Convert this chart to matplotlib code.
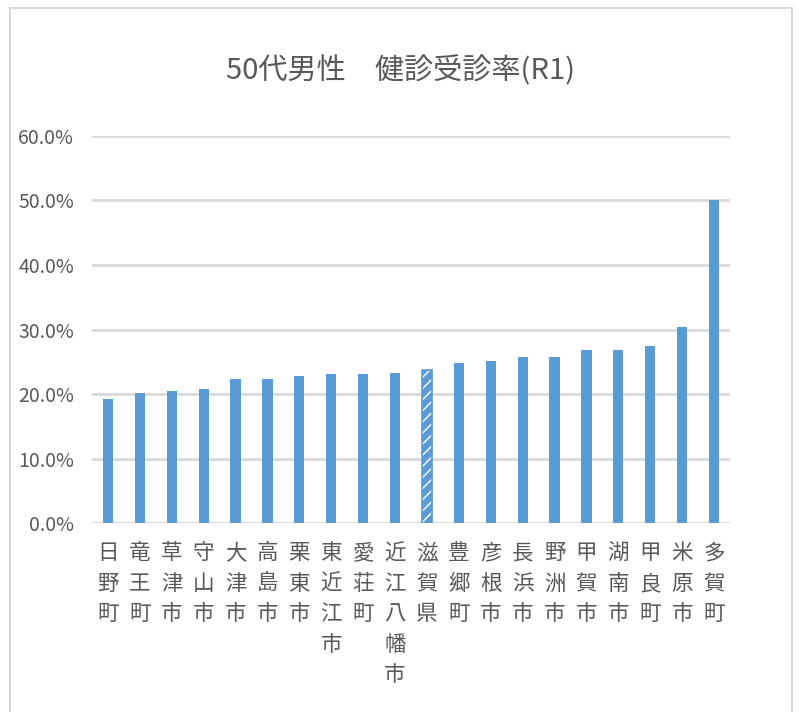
import matplotlib.pyplot as plt
from matplotlib.patches import Rectangle
from matplotlib.ticker import PercentFormatter

plt.rcParams['font.family'] = ['Noto Sans CJK JP', 'DejaVu Sans']

# data
areas = ['日野町', '竜王町', '草津市', '守山市', '大津市', '高島市', '栗東市',
         '東近江市', '愛荘町', '近江八幡市', '滋賀県', '豊郷町', '彦根市',
         '長浜市', '野洲市', '甲賀市', '湖南市', '甲良町', '米原市', '多賀町']
rates = [0.192, 0.201, 0.204, 0.208, 0.223, 0.223, 0.228,
         0.231, 0.231, 0.233, 0.238, 0.248, 0.251,
         0.257, 0.257, 0.269, 0.269, 0.274, 0.304, 0.500]
highlight = '滋賀県'

blue = '#5B9BD5'
grey = '#595959'

fig = plt.figure(figsize=(8, 7.12), dpi=100)
ax = fig.add_axes([0.115, 0.2654, 0.7975, 0.5436])

x = range(len(areas))
for i, (name, v) in enumerate(zip(areas, rates)):
    if name == highlight:
        ax.bar(i, v, width=0.32, color=blue, edgecolor='white', hatch='///',
               linewidth=0, zorder=3)
        ax.bar(i, v, width=0.32, fill=False, edgecolor=blue, linewidth=1.2, zorder=4)
    else:
        ax.bar(i, v, width=0.32, color=blue, zorder=3)

ax.set_xlim(-0.5, len(areas) - 0.5)
ax.set_ylim(0, 0.6)
ax.set_yticks([0, 0.1, 0.2, 0.3, 0.4, 0.5, 0.6])
ax.yaxis.set_major_formatter(PercentFormatter(1.0, decimals=1))
ax.grid(axis='y', color='#d9d9d9', linewidth=2, zorder=0)
ax.set_xticks(list(x))
ax.set_xticklabels(['\n'.join(n) for n in areas], linespacing=1.5,
                   fontsize=15.5, color=grey, va='top')
ax.tick_params(axis='x', length=0, pad=14)
ax.tick_params(axis='y', length=0, pad=13, labelsize=14, labelcolor=grey)
for s in ax.spines.values():
    s.set_visible(False)

fig.text(0.5, 0.9, '50代男性　健診受診率(R1)', ha='center', va='center',
         fontsize=21, color=grey)

# outer chart frame
fig.patches.append(Rectangle((10 / 800, -0.02), 782 / 800, 1 - 8 / 712 + 0.02,
                             transform=fig.transFigure, fill=False,
                             edgecolor='#d9d9d9', linewidth=1.5))

fig.savefig('out.png', dpi=100)
